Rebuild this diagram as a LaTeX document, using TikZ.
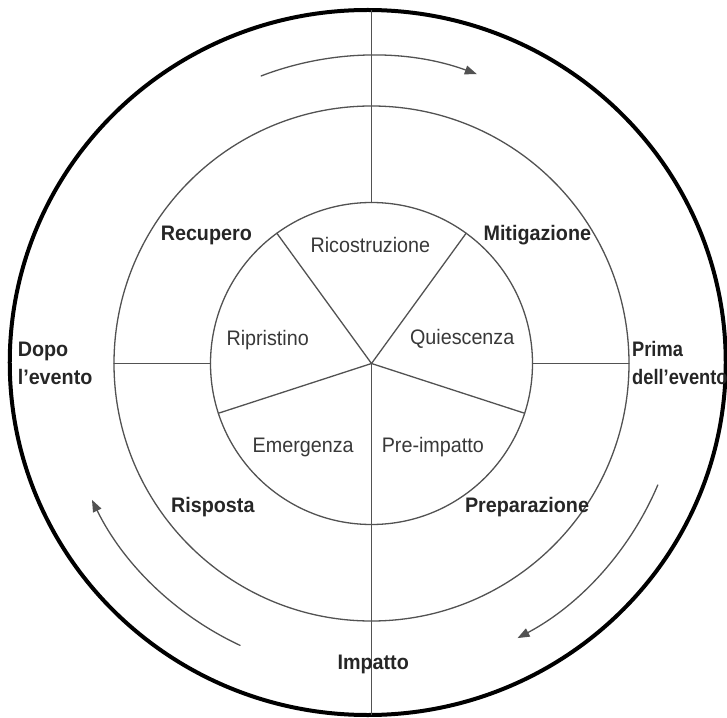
\documentclass[tikz,border=0pt]{standalone}
\usepackage{fontspec}
\setmainfont{Liberation Sans}[FakeStretch=0.94]
\newfontfamily\stretta{Liberation Sans}[FakeStretch=0.87]
\usetikzlibrary{arrows.meta}

\begin{document}
\begin{tikzpicture}[line cap=round,line join=round,>={Triangle[length=12pt,width=9pt]},x=1pt,y=1pt,
    ring/.style={line width=1.3pt,color=black!68},
    fase/.style={font=\fontsize{21}{24}\selectfont\bfseries,text=black!85,inner sep=0pt,anchor=base},
    sottofase/.style={font=\fontsize{21}{24}\selectfont,text=black!78,inner sep=0pt,anchor=base},
    momento/.style={font=\fontsize{21}{27.4}\selectfont\bfseries,text=black!85,inner sep=0pt,align=left,anchor=west}]
    \useasboundingbox (-371.5,-353.5) rectangle (355.5,363.5);
    % cerchi
    \draw [line width=4pt] (-3.75,1) ellipse [x radius=358, y radius=352.5];
    \draw [ring] (0,0) circle (257.5);
    \draw [ring] (0,0) circle (161);
    % assi
    \draw [ring] (0,161)-- (0,353);
    \draw [ring] (0,0)-- (0,-351);
    \draw [ring] (-257.5,0)-- (-161,0);
    \draw [ring] (161,0)-- (257.5,0);
    \foreach \a in {54,126,198,342}
        \draw [ring] (0,0)-- (\a:161);
    % frecce
    \draw [ring,->] (111:308) arc [start angle=111, end angle=70, radius=308];
    \draw [ring,->] (-23:311) arc [start angle=-23, end angle=-62, radius=311];
    \draw [ring,->] (245:311) arc [start angle=245, end angle=206, radius=311];
    % testi
    \node [fase] (recupero) at (-165.2,122.5) {Recupero};
    \node [fase] (mitigazione) at (165.8,122.5) {Mitigazione};
    \node [fase] (risposta) at (-158.7,-149.3) {Risposta};
    \node [fase] (preparazione) at (155.5,-149.3) {Preparazione};
    \node [fase] (impatto) at (1.7,-305.5) {Impatto};
    \node [momento] (dopo) at (-353.9,0) {Dopo\\l’evento};
    \node [momento,font=\fontsize{21}{27.4}\selectfont\stretta\bfseries] (prima) at (260.5,0.4) {Prima\\dell’evento};
    \node [sottofase] (ricostruzione) at (-1.1,111.1) {Ricostruzione};
    \node [sottofase] (ripristino) at (-103.8,18.5) {Ripristino};
    \node [sottofase] (quiescenza) at (90.7,19.5) {Quiescenza};
    \node [sottofase] (emergenza) at (-68.3,-89.3) {Emergenza};
    \node [sottofase] (preimpatto) at (61.3,-89.3) {Pre-impatto};
\end{tikzpicture}
\end{document}
